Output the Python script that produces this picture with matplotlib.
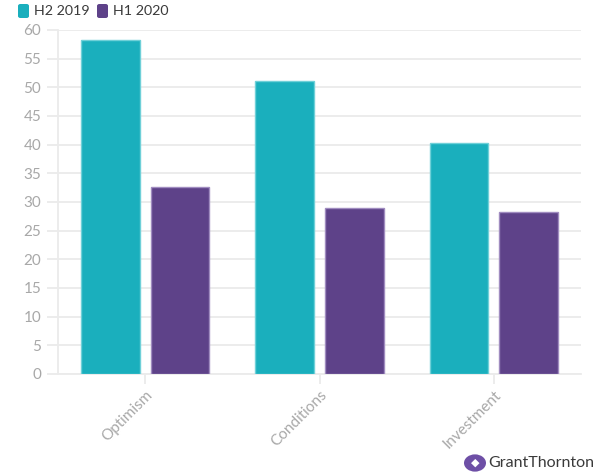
import matplotlib
matplotlib.use('Agg')
import matplotlib.pyplot as plt
from matplotlib.patches import FancyBboxPatch, Circle
import numpy as np

plt.rcParams['font.family'] = ['Lato', 'DejaVu Sans']

# ---- data ----
categories = ['Optimism', 'Conditions', 'Investment']
h2_2019 = [58.2, 51.0, 40.3]
h1_2020 = [32.6, 28.9, 28.3]
series_names = ['H2 2019', 'H1 2020']

COLORS = {'H2 2019': '#1AAFBD', 'H1 2020': '#5E4289'}
EDGES = {'H2 2019': '#6FD0D8', 'H1 2020': '#A08CC0'}
GRID = '#ebebeb'

fig = plt.figure(figsize=(6.04, 4.74), dpi=100)
ax = fig.add_axes([0.096, 0.211, 0.866, 0.726])

x = np.arange(len(categories))
w = 0.338
ax.bar(x - 0.2, h2_2019, w, color=COLORS['H2 2019'], edgecolor=EDGES['H2 2019'],
       linewidth=1, zorder=3)
ax.bar(x + 0.2, h1_2020, w, color=COLORS['H1 2020'], edgecolor=EDGES['H1 2020'],
       linewidth=1, zorder=3)

ax.set_xlim(-0.5, 2.5)
ax.set_ylim(0, 60)
ax.set_yticks(range(0, 61, 5))
ax.yaxis.grid(True, color=GRID, linewidth=1.3, zorder=0)
ax.set_xticks(x)
ax.set_xticklabels(categories, rotation=45, ha='right', rotation_mode='anchor',
                   color='#a8a8a8', fontsize=11)
ax.tick_params(axis='y', colors='#a8a8a8', labelsize=11, length=8, width=1.3,
               color=GRID, pad=4)
ax.tick_params(axis='x', length=7, width=1.3, color=GRID, pad=3)
for s in ['top', 'right']:
    ax.spines[s].set_visible(False)
for s in ['left', 'bottom']:
    ax.spines[s].set_color(GRID)
    ax.spines[s].set_linewidth(1.3)

# ---- legend (rounded squares) ----
for lx, name in zip([18, 97], series_names):
    fig.patches.append(FancyBboxPatch((lx / 604, 1 - 18 / 474), 11 / 604, 14 / 474,
                                      boxstyle='round,pad=0,rounding_size=0.004',
                                      transform=fig.transFigure,
                                      facecolor=COLORS[name], edgecolor='none'))
    fig.text((lx + 16) / 604, 1 - 11 / 474, name, fontsize=10.3, color='#3a3a3a',
             va='center')

# ---- logo ----
fig.patches.append(Circle((475 / 604, 1 - 463 / 474), 11 / 604, transform=fig.transFigure,
                          facecolor='#6E4FA6', edgecolor='none'))
fig.text(475 / 604, 1 - 463 / 474, '\u25c6', fontsize=8, color='white',
         ha='center', va='center', family='DejaVu Sans')
fig.text(594 / 604, 1 - 463 / 474, 'GrantThornton', fontsize=11.5, color='#3a3a3a',
         va='center', ha='right')

plt.savefig('out.png', dpi=100)
